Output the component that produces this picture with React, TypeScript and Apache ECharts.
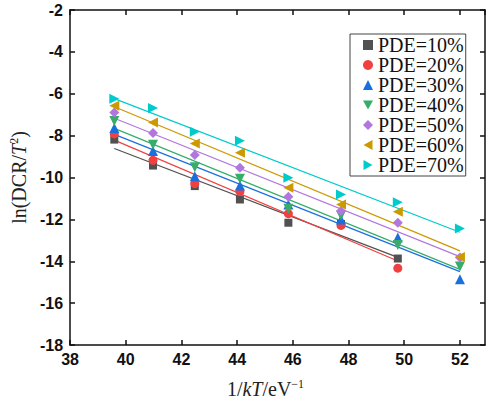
import React, { useEffect, useRef } from "react";
import * as echarts from "echarts";

const xValues = [39.59, 40.98, 42.48, 44.1, 45.84, 47.73, 49.77, 52.0];
const seriesNames = ["PDE=10%", "PDE=20%", "PDE=30%", "PDE=40%", "PDE=50%", "PDE=60%", "PDE=70%"];
const pde10 = [-8.19, -9.43, -10.41, -11.05, -12.16, -12.22, -13.87];
const pde20 = [-7.92, -9.18, -10.29, -10.67, -11.73, -12.29, -14.33];
const pde30 = [-7.63, -8.73, -9.94, -10.38, -11.29, -12.0, -12.87, -14.86];
const pde40 = [-7.3, -8.44, -9.51, -10.06, -11.49, -11.81, -13.22, -14.25];
const pde50 = [-6.89, -7.87, -8.92, -9.54, -10.92, -11.6, -12.16, -13.82];
const pde60 = [-6.57, -7.37, -8.38, -8.82, -10.49, -11.29, -11.63, -13.8];
const pde70 = [-6.24, -6.68, -7.82, -8.24, -10.01, -10.81, -11.18, -12.44];
const xTicks = [38, 40, 42, 44, 46, 48, 50, 52];

const allValues = [pde10, pde20, pde30, pde40, pde50, pde60, pde70];
const colors = ["#515151", "#F14040", "#1A6FDF", "#37AD6B", "#B177DE", "#CC9900", "#00CBCC"];
const symbols = [
  "rect",
  "circle",
  "triangle",
  "path://M0,0L10,0L5,9z",
  "diamond",
  "path://M9,0L9,10L0,5z",
  "path://M0,0L9,5L0,10z",
];
const symbolSizes = [8, 9, 10, 10, 10, 10, 10];

function fit(ys: number[]) {
  const xs = xValues.slice(0, ys.length);
  const n = ys.length;
  const mx = xs.reduce((a, b) => a + b, 0) / n;
  const my = ys.reduce((a, b) => a + b, 0) / n;
  let sxy = 0;
  let sxx = 0;
  for (let i = 0; i < n; i++) {
    sxy += (xs[i] - mx) * (ys[i] - my);
    sxx += (xs[i] - mx) * (xs[i] - mx);
  }
  const k = sxy / sxx;
  const b = my - k * mx;
  return [
    [xs[0], k * xs[0] + b],
    [xs[n - 1], k * xs[n - 1] + b],
  ];
}

export default function App() {
  const ref = useRef<HTMLDivElement>(null);
  useEffect(() => {
    if (!ref.current) return;
    const chart = echarts.init(ref.current, undefined, { renderer: "svg" });
    const labelStyle = {
      fontFamily: "Liberation Sans",
      fontWeight: "bold" as const,
      fontSize: 16,
      color: "#111",
    };
    const axisLine = { show: true, lineStyle: { color: "#111", width: 1.5 } };
    const axisTick = { show: true, inside: true, length: 5, lineStyle: { color: "#111", width: 1.5 } };
    const fmtX = (v: number) => (xTicks.indexOf(v) >= 0 ? String(v) : "");
    const serif = "Liberation Serif";
    const rich = {
      i: { fontFamily: serif, fontSize: 20, fontStyle: "italic", color: "#222" },
      sup: { fontFamily: serif, fontSize: 12, color: "#222", verticalAlign: "top", padding: [0, 0, 10, 0] },
    };

    const scatterSeries = allValues.map((ys, i) => ({
      name: seriesNames[i],
      type: "scatter",
      data: ys.map((y, j) => [xValues[j], y]),
      symbol: symbols[i],
      symbolSize: symbolSizes[i],
      itemStyle: { color: colors[i], opacity: 1 },
      z: 3,
    }));
    const lineSeries = allValues.map((ys, i) => ({
      name: "fit" + i,
      type: "line",
      data: fit(ys),
      showSymbol: false,
      symbol: "none",
      lineStyle: { color: colors[i], width: 1.2 },
      z: 2,
    }));

    chart.setOption({
      animation: false,
      backgroundColor: "#fff",
      grid: { left: 67, right: 3, top: 10, bottom: 58, containLabel: false },
      legend: {
        data: seriesNames,
        orient: "vertical",
        left: 350,
        top: 34,
        itemWidth: 10,
        itemHeight: 10,
        itemGap: 0,
        padding: [1, 2, 1, 13],
        borderColor: "#444",
        borderWidth: 1,
        textStyle: { fontFamily: serif, fontSize: 20, color: "#111", lineHeight: 20 },
      },
      xAxis: [
        {
          type: "value",
          min: 38,
          max: 52.9,
          interval: 2,
          axisLine,
          axisTick,
          splitLine: { show: false },
          axisLabel: { ...labelStyle, margin: 6, formatter: fmtX, showMaxLabel: false },
          name: "1/{i|kT}/eV{sup|−1}",
          nameLocation: "middle",
          nameGap: 33,
          nameTextStyle: {
            fontFamily: serif,
            fontSize: 20,
            color: "#222",
            padding: [0, 24, 0, 0],
            rich,
          },
        },
        {
          type: "value",
          position: "top",
          min: 38,
          max: 52.9,
          interval: 2,
          axisLine,
          axisTick,
          splitLine: { show: false },
          axisLabel: { show: false },
        },
      ],
      yAxis: [
        {
          type: "value",
          min: -18,
          max: -2,
          interval: 2,
          axisLine,
          axisTick,
          splitLine: { show: false },
          axisLabel: { ...labelStyle, margin: 7 },
          name: "ln(DCR/{i|T}{sup|2})",
          nameLocation: "middle",
          nameGap: 35,
          nameTextStyle: {
            fontFamily: serif,
            fontSize: 20,
            color: "#222",
            rich,
          },
        },
        {
          type: "value",
          position: "right",
          min: -18,
          max: -2,
          interval: 2,
          axisLine,
          axisTick,
          splitLine: { show: false },
          axisLabel: { show: false },
        },
      ],
      series: [...lineSeries, ...scatterSeries],
    });
    return () => chart.dispose();
  }, []);
  return (
    <div
      ref={ref}
      style={{ position: "absolute", left: 0, top: 0, width: 488, height: 404 }}
    />
  );
}
